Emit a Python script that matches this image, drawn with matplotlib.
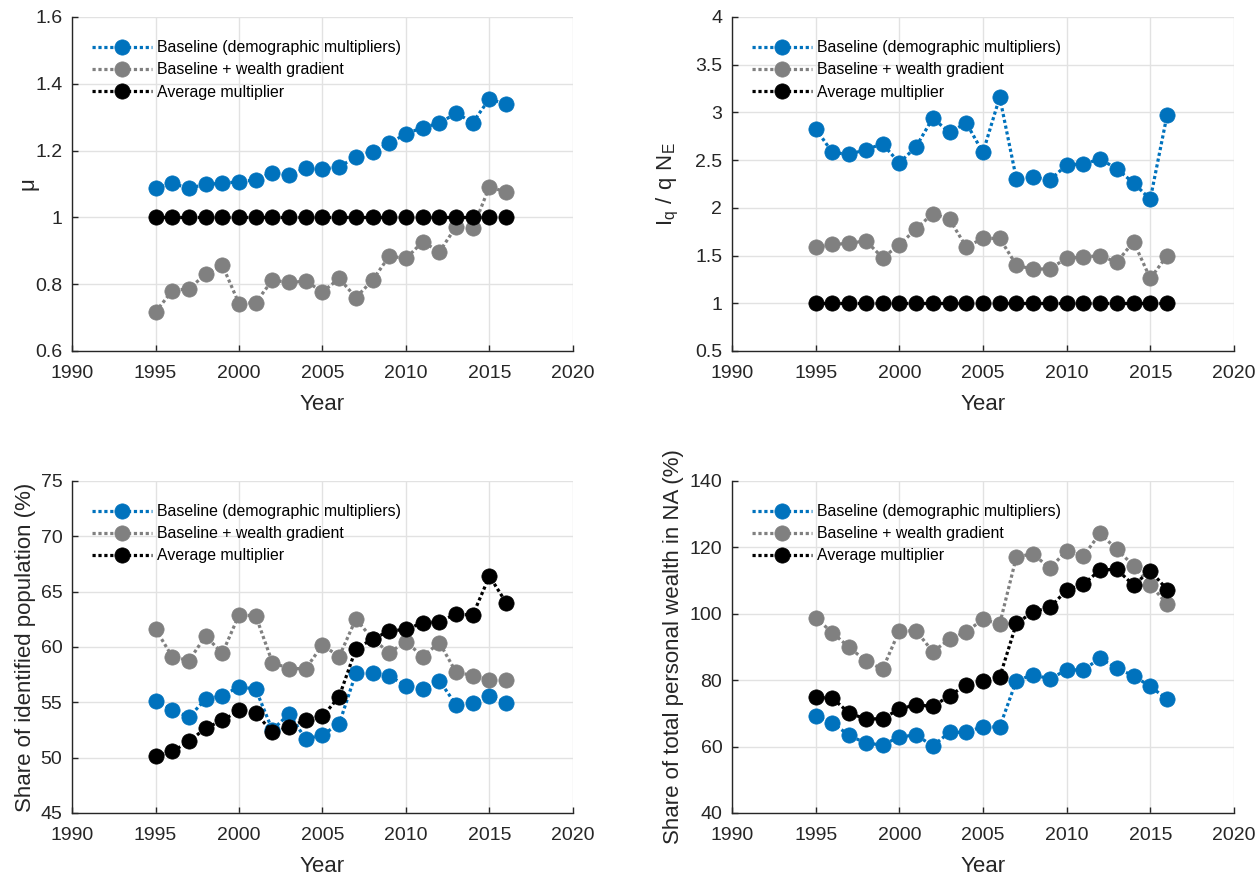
import matplotlib
matplotlib.use("Agg")
import matplotlib.pyplot as plt
from matplotlib.ticker import FuncFormatter, MultipleLocator

plt.rcParams['font.family'] = ['Liberation Sans', 'DejaVu Sans']

years = list(range(1995, 2017))

series_labels = ["Baseline (demographic multipliers)",
                 "Baseline + wealth gradient",
                 "Average multiplier"]
series_colors = ["#0072BD", "#808080", "#000000"]

# Panel 1: mu
mu_baseline = [1.087, 1.102, 1.087, 1.099, 1.102, 1.107, 1.112, 1.134, 1.127, 1.147, 1.144,
               1.152, 1.180, 1.197, 1.222, 1.250, 1.269, 1.282, 1.312, 1.284, 1.355, 1.338]
mu_gradient = [0.717, 0.780, 0.787, 0.829, 0.857, 0.742, 0.745, 0.812, 0.805, 0.809, 0.777,
               0.817, 0.760, 0.812, 0.884, 0.877, 0.927, 0.897, 0.972, 0.967, 1.092, 1.075]
mu_average = [1.0] * 22

# Panel 2: I_q / q N_E
iq_baseline = [2.83, 2.58, 2.56, 2.61, 2.67, 2.47, 2.64, 2.94, 2.79, 2.89, 2.58,
               3.16, 2.30, 2.32, 2.29, 2.45, 2.46, 2.51, 2.41, 2.26, 2.09, 2.97]
iq_gradient = [1.585, 1.617, 1.627, 1.655, 1.477, 1.610, 1.780, 1.940, 1.880, 1.590, 1.680,
               1.680, 1.400, 1.354, 1.364, 1.470, 1.487, 1.497, 1.430, 1.645, 1.260, 1.497]
iq_average = [1.0] * 22

# Panel 3: share of identified population (%)
pop_baseline = [55.16, 54.32, 53.66, 55.28, 55.58, 56.42, 56.18, 52.50, 53.96, 51.67, 52.06,
                53.06, 57.63, 57.63, 57.38, 56.51, 56.18, 56.96, 54.77, 54.92, 55.58, 54.98]
pop_gradient = [61.62, 59.13, 58.77, 60.99, 59.43, 62.89, 62.83, 58.59, 58.05, 58.05, 60.18,
                59.13, 62.53, 60.72, 59.49, 60.48, 59.13, 60.39, 57.72, 57.42, 57.03, 57.03]
pop_average = [50.11, 50.56, 51.46, 52.67, 53.36, 54.26, 54.02, 52.31, 52.76, 53.42, 53.72,
               55.52, 59.82, 60.72, 61.44, 61.59, 62.19, 62.28, 62.98, 62.89, 66.40, 64.00]

# Panel 4: share of total personal wealth in NA (%)
wealth_baseline = [69.3, 67.1, 63.4, 61.0, 60.5, 62.9, 63.5, 60.2, 64.3, 64.3, 66.0,
                   65.9, 79.9, 81.6, 80.4, 83.1, 83.1, 86.6, 83.6, 81.3, 78.1, 74.3]
wealth_gradient = [98.8, 94.3, 89.9, 85.8, 83.3, 94.9, 94.9, 88.6, 92.3, 94.6, 98.3,
                   96.9, 117.2, 118.0, 113.7, 119.0, 117.4, 124.2, 119.4, 114.5, 108.8, 102.9]
wealth_average = [74.8, 74.6, 70.1, 68.3, 68.4, 71.3, 72.6, 72.1, 75.3, 78.6, 79.9,
                  80.9, 97.1, 100.6, 101.9, 107.1, 108.9, 113.2, 113.4, 108.6, 113.0, 107.3]

panels = [
    dict(data=[mu_baseline, mu_gradient, mu_average], ylabel="\u03bc",
         ylim=(0.6, 1.6), ystep=0.2, rect=[0.0572, 0.5989, 0.3979, 0.3817], lx=-0.066),
    dict(data=[iq_baseline, iq_gradient, iq_average],
         ylabel=r"$\mathregular{I_q\ /\ q\ N_E}$",
         ylim=(0.5, 4.0), ystep=0.5, rect=[0.5814, 0.5989, 0.3987, 0.3817], lx=-0.102),
    dict(data=[pop_baseline, pop_gradient, pop_average],
         ylabel="Share of identified population (%)",
         ylim=(45, 75), ystep=5, rect=[0.0572, 0.0709, 0.3979, 0.3794], lx=-0.072),
    dict(data=[wealth_baseline, wealth_gradient, wealth_average],
         ylabel="Share of total personal wealth in NA (%)",
         ylim=(40, 140), ystep=20, rect=[0.5814, 0.0709, 0.3987, 0.3794], lx=-0.096),
]

axis_color = "#262626"
fig = plt.figure(figsize=(12.59, 8.75), dpi=100)

for p in panels:
    ax = fig.add_axes(p["rect"])
    for vals, lab, col in zip(p["data"], series_labels, series_colors):
        ax.plot(years, vals, linestyle=(0, (1.0, 0.85)), linewidth=2.3,
                color=col, marker="o", markersize=11, markerfacecolor=col,
                markeredgecolor=col, markeredgewidth=0.5, label=lab,
                dash_capstyle="butt", clip_on=False)
    ax.set_xlim(1990, 2020)
    ax.set_ylim(*p["ylim"])
    ax.xaxis.set_major_locator(MultipleLocator(5))
    ax.yaxis.set_major_locator(MultipleLocator(p["ystep"]))
    ax.yaxis.set_major_formatter(FuncFormatter(lambda v, pos: f"{v:g}"))
    ax.grid(True, color="#e2e2e2", linewidth=1.0)
    ax.set_axisbelow(True)
    for side in ("top", "right"):
        ax.spines[side].set_visible(False)
    for side in ("left", "bottom"):
        ax.spines[side].set_color(axis_color)
        ax.spines[side].set_linewidth(1.0)
    ax.tick_params(direction="in", length=4, width=1.0, colors=axis_color,
                   labelsize=14, labelcolor=axis_color)
    ax.tick_params(axis="x", pad=10)
    ax.tick_params(axis="y", pad=7)
    ax.set_xlabel("Year", fontsize=16, color=axis_color, labelpad=9)
    ax.set_ylabel(p["ylabel"], fontsize=16, color=axis_color)
    ax.yaxis.set_label_coords(p["lx"], 0.5)
    leg = ax.legend(loc="upper left", bbox_to_anchor=(0.04, 0.93), frameon=False,
                    fontsize=11.4, handlelength=3.8, handletextpad=0.3,
                    labelspacing=0.45, borderaxespad=0.0, borderpad=0.0,
                    numpoints=1)
    for t in leg.get_texts():
        t.set_color("#000000")

fig.savefig("out.png", dpi=100)
